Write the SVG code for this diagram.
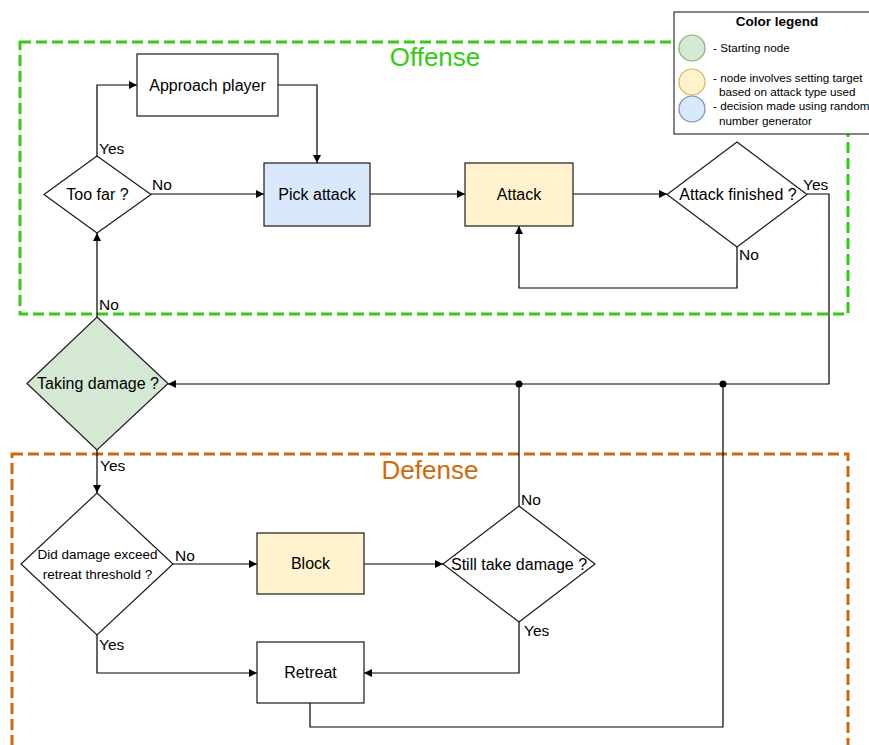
<svg xmlns="http://www.w3.org/2000/svg" width="869" height="745" viewBox="0 0 869 745">
<style>
text{font-family:"Liberation Sans",Arial,sans-serif;fill:#000}
.node{stroke:#1a1a1a;stroke-width:1.2}
.t{font-size:16px;text-anchor:middle}
.lbl{font-size:15.5px}
.conn path{fill:none;stroke:#000;stroke-width:1.2}
.arr{marker-end:url(#ah)}
.leg{font-size:11.7px}
</style>
<defs>
<marker id="ah" markerUnits="userSpaceOnUse" markerWidth="8" markerHeight="8" refX="8" refY="4" orient="auto">
<path d="M0,0 L8,4 L0,8 z" fill="#000"/>
</marker>
</defs>
<rect width="869" height="745" fill="#fff"/>

<g id="offense">
<rect x="20" y="42" width="828" height="272" fill="none" stroke="#33cc11" stroke-width="3" stroke-dasharray="11 5"/>
<text x="435" y="66" style="font-size:26px;text-anchor:middle;fill:#33cc11">Offense</text>
</g>
<g id="defense">
<rect x="12" y="454" width="836" height="310" fill="none" stroke="#cf6a0c" stroke-width="3" stroke-dasharray="11 5"/>
<text x="430" y="479" style="font-size:26px;text-anchor:middle;fill:#cf6a0c">Defense</text>
</g>

<g id="legend">
<rect x="674" y="12" width="210" height="122" fill="#fff" stroke="#333" stroke-width="1.2"/>
<text x="777" y="26" style="font-size:13.5px;font-weight:bold;text-anchor:middle">Color legend</text>
<circle cx="692" cy="48" r="13" fill="#d5e8d4" stroke="#82b366" stroke-width="1.2"/>
<circle cx="692" cy="82" r="13" fill="#fff2cc" stroke="#d6b656" stroke-width="1.2"/>
<circle cx="692" cy="109" r="13" fill="#dae8fc" stroke="#6c8ebf" stroke-width="1.2"/>
<text class="leg" x="713" y="52">- Starting node</text>
<text class="leg" x="713" y="82">- node involves setting target</text>
<text class="leg" x="719" y="96">based on attack type used</text>
<text class="leg" x="713" y="110">- decision made using random</text>
<text class="leg" x="719" y="125">number generator</text>
</g>

<g class="conn" id="connectors">
<path class="arr" d="M97,156 V85 H137"/>
<path class="arr" d="M151,194 H264"/>
<path class="arr" d="M278,85 H317 V163"/>
<path class="arr" d="M370,194 H465"/>
<path class="arr" d="M573,194 H667"/>
<path class="arr" d="M737,247 V288 H519 V226"/>
<path class="arr" d="M807,194 H829 V384 H168"/>
<path class="arr" d="M97,317 V233"/>
<path class="arr" d="M97,450 V493"/>
<path class="arr" d="M173,564 H257"/>
<path class="arr" d="M97,635 V673 H257"/>
<path class="arr" d="M364,564 H443"/>
<path d="M519,506 V384"/>
<path class="arr" d="M519,622 V673 H364"/>
<path d="M310,703 V727 H723 V384"/>
<circle cx="519" cy="384" r="3.5" fill="#000"/>
<circle cx="723" cy="384" r="3.5" fill="#000"/>
<text class="lbl" x="99" y="154">Yes</text>
<text class="lbl" x="152" y="190">No</text>
<text class="lbl" x="803" y="190">Yes</text>
<text class="lbl" x="739" y="260">No</text>
<text class="lbl" x="99" y="310">No</text>
<text class="lbl" x="100" y="471">Yes</text>
<text class="lbl" x="175" y="561">No</text>
<text class="lbl" x="99" y="650">Yes</text>
<text class="lbl" x="521" y="505">No</text>
<text class="lbl" x="524" y="636">Yes</text>
</g>

<g id="approach">
<rect class="node" x="137" y="54" width="141" height="62" fill="#fff"/>
<text class="t" x="207.5" y="91">Approach player</text>
</g>
<g id="toofar">
<path class="node" d="M97,156 L151,194.5 L97,233 L44,194.5 Z" fill="#fff"/>
<text class="t" x="97.5" y="200">Too far ?</text>
</g>
<g id="pickattack">
<rect class="node" x="264" y="163" width="106" height="63" fill="#dae8fc"/>
<text class="t" x="317" y="200">Pick attack</text>
</g>
<g id="attack">
<rect class="node" x="465" y="163" width="108" height="63" fill="#fff2cc"/>
<text class="t" x="519" y="200">Attack</text>
</g>
<g id="attackfinished">
<path class="node" d="M737,142 L807,194.5 L737,247 L667,194.5 Z" fill="#fff"/>
<text class="t" x="738" y="200">Attack finished ?</text>
</g>
<g id="takingdamage">
<path class="node" d="M97,317 L168,383.5 L97,450 L27,383.5 Z" fill="#d5e8d4"/>
<text class="t" x="98" y="389">Taking damage ?</text>
</g>
<g id="diddamage">
<path class="node" d="M97,493 L173,564 L97,635 L21,564 Z" fill="#fff"/>
<text x="97.5" y="559" style="font-size:13.5px;text-anchor:middle">Did damage exceed</text>
<text x="97.5" y="579" style="font-size:13.5px;text-anchor:middle">retreat threshold ?</text>
</g>
<g id="block">
<rect class="node" x="257" y="533" width="107" height="61" fill="#fff2cc"/>
<text class="t" x="310.5" y="569">Block</text>
</g>
<g id="stilltakedamage">
<path class="node" d="M519,506 L595,564 L519,622 L443,564 Z" fill="#fff"/>
<text class="t" x="519" y="570">Still take damage ?</text>
</g>
<g id="retreat">
<rect class="node" x="257" y="642" width="107" height="61" fill="#fff"/>
<text class="t" x="310.5" y="678">Retreat</text>
</g>
</svg>
